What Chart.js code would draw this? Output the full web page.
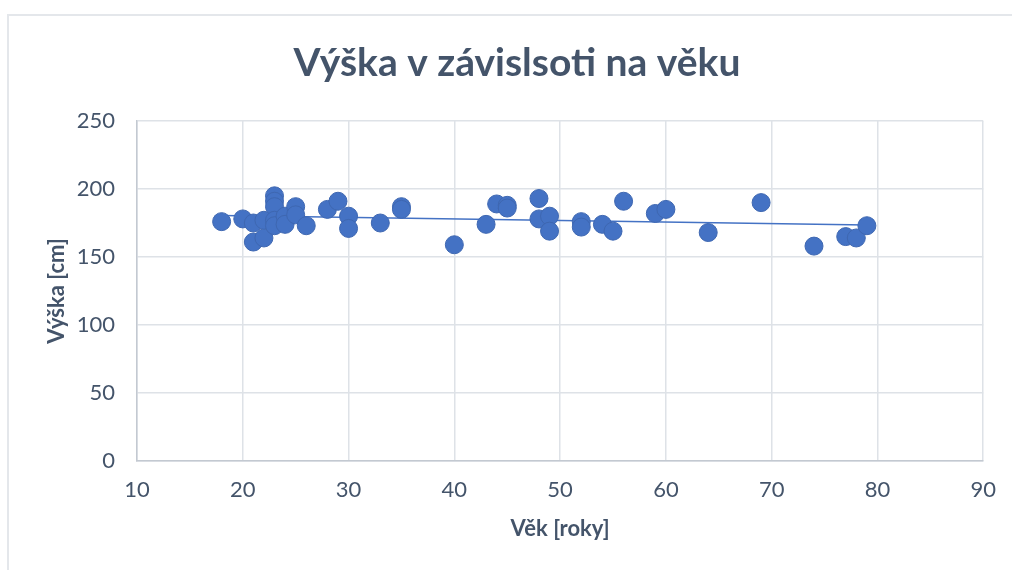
<!DOCTYPE html>
<html>
<head>
<meta charset="utf-8">
<script src="https://cdn.jsdelivr.net/npm/chart.js@4/dist/chart.umd.min.js"></script>
<style>
  html, body { margin: 0; padding: 0; background: #fff; overflow: hidden; }
  #frame { position: absolute; left: 7px; top: 14px; width: 1100px; height: 600px; border: 2px solid #E4E7EB; box-sizing: border-box; }
  #wrap { position: absolute; left: 0; top: 0; width: 1012px; height: 570px; }
</style>
</head>
<body>
<div id="frame"></div>
<div id="wrap"><canvas id="vyskaChart" width="1012" height="570"></canvas></div>
<script>
// vek respondentu a jejich vyska
const ages = [18, 20, 21, 21, 22, 22, 23, 23, 23, 23, 23, 24, 24, 25, 25, 26, 28, 29, 30, 30, 33, 35, 35,
  40, 43, 44, 45, 45, 48, 48, 49, 49, 52, 52, 54, 55, 56, 59, 60, 64, 69, 74, 77, 78, 79];
const heights = [176, 178, 161, 175, 164, 177, 195, 191, 187, 177, 173, 180, 174, 187, 181, 173, 185, 191, 180, 171, 175, 187, 185,
  159, 174, 189, 188, 186, 193, 178, 180, 169, 176, 172, 174, 169, 191, 182, 185, 168, 190, 158, 165, 164, 173];
const xTicks = [10, 20, 30, 40, 50, 60, 70, 80, 90];
const yTicks = [0, 50, 100, 150, 200, 250];

const chartTitle = 'Výška v závislsoti na věku';
const xTitle = 'Věk [roky]';
const yTitle = 'Výška [cm]';

const textColor = '#44546A';
const blue = '#4472C4';
const font = 'Lato, "Open Sans", sans-serif';

// linearni trend (metoda nejmensich ctvercu)
const n = ages.length;
const mx = ages.reduce((a, b) => a + b, 0) / n;
const my = heights.reduce((a, b) => a + b, 0) / n;
let sxy = 0, sxx = 0;
ages.forEach((x, i) => { sxy += (x - mx) * (heights[i] - my); sxx += (x - mx) * (x - mx); });
const slope = sxy / sxx;
const intercept = my - slope * mx;
const xMin = Math.min(...ages), xMax = Math.max(...ages);
const trend = [xMin, xMax].map(x => ({ x: x, y: intercept + slope * x }));

const points = ages.map((x, i) => ({ x: x, y: heights[i] }));

// nadpis grafu (vycentrovany na cely ramecek, ne jen na plochu grafu)
const titlePlugin = {
  id: 'nadpis',
  afterDraw(chart) {
    const c = chart.ctx;
    c.save();
    c.font = 'bold 39px ' + font;
    c.fillStyle = textColor;
    c.textAlign = 'center';
    c.textBaseline = 'middle';
    c.fillText(chartTitle, 517, 63);
    c.restore();
  }
};

new Chart(document.getElementById('vyskaChart'), {
  type: 'scatter',
  data: {
    datasets: [{
      label: 'Výška',
      data: points,
      backgroundColor: blue,
      borderColor: '#3E67B1',
      borderWidth: 1,
      pointRadius: 9,
      pointHoverRadius: 9,
      order: 1
    }, {
      label: 'Lineární (Výška)',
      type: 'line',
      data: trend,
      borderColor: blue,
      borderWidth: 1.6,
      pointRadius: 0,
      fill: false,
      order: 2
    }]
  },
  options: {
    responsive: false,
    animation: false,
    layout: { padding: { top: 121, left: 0, right: 27, bottom: 0 } },
    plugins: {
      legend: { display: false },
      tooltip: { enabled: false }
    },
    scales: {
      x: {
        type: 'linear',
        min: 10,
        max: 90,
        afterBuildTicks: s => { s.ticks = xTicks.map(v => ({ value: v })); },
        afterFit: s => { s.height = 109; },
        grid: { color: '#DEE2E7', lineWidth: 1.5, drawTicks: false },
        border: { color: '#C3C9D1', width: 1.5 },
        ticks: { color: textColor, font: { family: font, size: 22 }, padding: 16 },
        title: {
          display: true, text: xTitle, color: textColor,
          font: { family: font, size: 22, weight: 'bold' },
          padding: { top: 0, bottom: 28 }
        }
      },
      y: {
        min: 0,
        max: 250,
        afterBuildTicks: s => { s.ticks = yTicks.map(v => ({ value: v })); },
        afterFit: s => { s.width = 137; },
        grid: { color: '#DEE2E7', lineWidth: 1.5, drawTicks: false },
        border: { color: '#C3C9D1', width: 1.5 },
        ticks: { color: textColor, font: { family: font, size: 22 }, padding: 22 },
        title: {
          display: true, text: yTitle, color: textColor,
          font: { family: font, size: 22, weight: 'bold' },
          padding: { top: 44, bottom: 0 }
        }
      }
    }
  },
  plugins: [titlePlugin]
});
</script>
</body>
</html>
